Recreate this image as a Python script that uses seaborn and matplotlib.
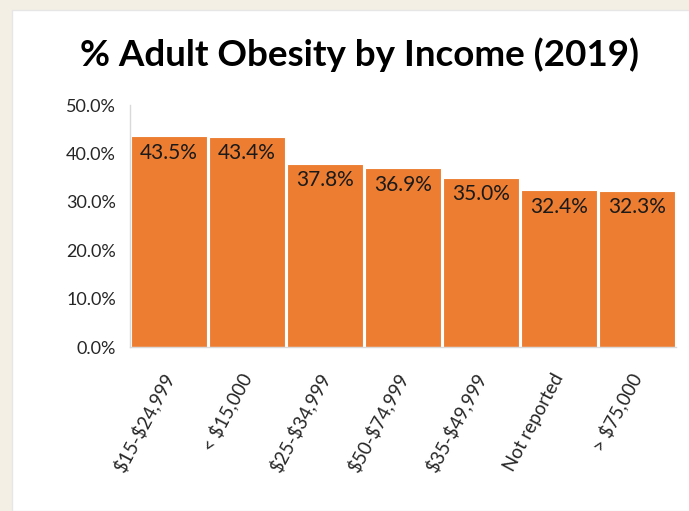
import matplotlib.pyplot as plt
import seaborn as sns
from matplotlib.patches import Rectangle
from matplotlib.ticker import FuncFormatter

income_groups = ["$15-$24,999", "< $15,000", "$25-$34,999", "$50-$74,999",
                 "$35-$49,999", "Not reported", "> $75,000"]
obesity_pct = [43.5, 43.4, 37.8, 36.9, 35.0, 32.4, 32.3]
y_ticks = [0, 10, 20, 30, 40, 50]

sns.set_style("white")
plt.rcParams["font.family"] = ["Lato", "DejaVu Sans"]

fig = plt.figure(figsize=(6.89, 5.11), dpi=100)
fig.patch.set_facecolor("#F3EFE4")
# white chart panel on beige background
fig.patches.append(Rectangle((12 / 689, 0), 1, 1 - 10 / 511, transform=fig.transFigure,
                             facecolor="white", edgecolor="#E6E6E6", linewidth=1, zorder=-5))

ax = fig.add_axes([130 / 689, 1 - 347 / 511, 546 / 689, 242 / 511])
ax.set_facecolor("none")

sns.barplot(x=income_groups, y=obesity_pct, color="#ED7D31", saturation=1,
            width=0.97, edgecolor="white", linewidth=0.8, ax=ax)

ax.set_ylim(0, 50)
ax.set_xlim(-0.5, len(income_groups) - 0.5)
ax.set_yticks(y_ticks)
ax.yaxis.set_major_formatter(FuncFormatter(lambda v, p: f"{v:.1f}%"))
ax.tick_params(axis="y", length=0, pad=10, labelsize=13, labelcolor="#262626")
ax.tick_params(axis="x", length=0, pad=20, labelsize=13.5, labelcolor="#262626")
ax.set_xticks(range(len(income_groups)))
ax.set_xticklabels(income_groups, rotation=62, ha="right", va="center",
                   rotation_mode="anchor")
for lbl in ax.get_xticklabels():
    lbl.set_parse_math(False)

for side in ["top", "right"]:
    ax.spines[side].set_visible(False)
for side in ["left", "bottom"]:
    ax.spines[side].set_color("#D9D9D9")
    ax.spines[side].set_linewidth(1)

ax.bar_label(ax.containers[0], labels=[f"{v:.1f}%" for v in obesity_pct],
             padding=-19, fontsize=15, color="#1A1A1A")

ax.set_xlabel("")
ax.set_ylabel("")

fig.text(0.522, 1 - 55 / 511, "% Adult Obesity by Income (2019)", ha="center", va="center",
         fontsize=26.5, fontweight="bold", color="black")

fig.savefig("out.png", dpi=100, facecolor=fig.get_facecolor())
